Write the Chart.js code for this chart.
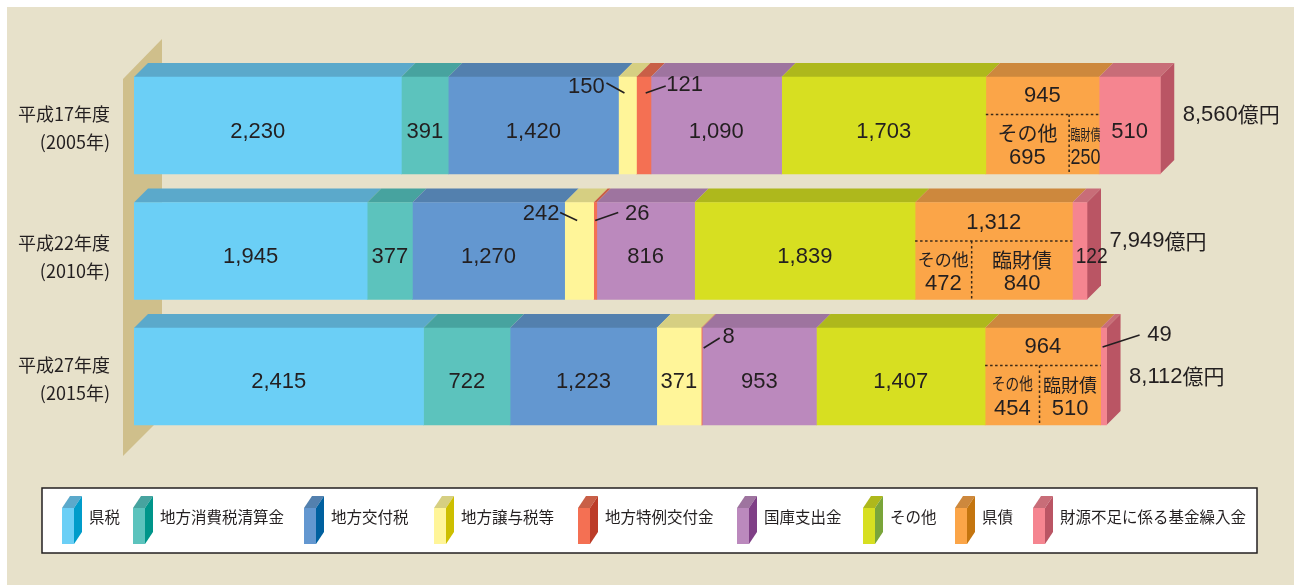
<!DOCTYPE html>
<html lang="ja">
<head>
<meta charset="utf-8">
<title>歳入の推移</title>
<style>
  html, body { margin: 0; padding: 0; background: #fff; }
  canvas { display: block; }
</style>
<script src="https://cdn.jsdelivr.net/npm/chart.js@4/dist/chart.umd.min.js"></script>
</head>
<body>
<div style="width:1294px;height:585px"><canvas id="revenueChart" width="1294" height="585"></canvas></div>
<script>
// 年度ラベル
const years = [['平成17年度', '(2005年)'], ['平成22年度', '(2010年)'], ['平成27年度', '(2015年)']];
const totals = ['8,560億円', '7,949億円', '8,112億円'];

// 系列名
const seriesNames = ['県税', '地方消費税清算金', '地方交付税', '地方譲与税等', '地方特例交付金', '国庫支出金', 'その他', '県債', '財源不足に係る基金繰入金'];

// 系列の値（億円）
const kenzei = [2230, 1945, 2415];
const seisankin = [391, 377, 722];
const koufuzei = [1420, 1270, 1223];
const jouyozei = [150, 242, 371];
const tokurei = [121, 26, 8];
const kokko = [1090, 816, 953];
const sonota = [1703, 1839, 1407];
const kensai = [945, 1312, 964];
const kikin = [510, 122, 49];

// 県債の内訳
const kensaiOther = [695, 472, 454];
const kensaiRinzai = [250, 840, 510];

const seriesValues = [kenzei, seisankin, koufuzei, jouyozei, tokurei, kokko, sonota, kensai, kikin];

// 色：正面・上面・側面
const frontColors = ['#6bcff6', '#5cc3bd', '#6397d0', '#fff599', '#f47053', '#bb89bd', '#d7df21', '#fba548', '#f58590'];
const topColors = ['#5ba9cb', '#47a39f', '#5380ae', '#d6cf82', '#c85f47', '#9e749f', '#aeb81c', '#cd883d', '#c86d78'];
const sideColors = ['#009cca', '#00958a', '#00609f', '#cdbf00', '#bc3c28', '#7f3f86', '#7aa53a', '#c4750f', '#ba5564'];

const DEPTH = 14;
const INK = '#231f20';
const NUM_FONT = '"Liberation Sans", Arial, sans-serif';
const JP_FONT = '"Noto Sans CJK JP", sans-serif';

// 行ごとの文字の縦位置の補正
const rowShift = [0, 1, 0];
const labelDy = [6, 6, 5];

// 引き出し線付きのラベル（区画の中心と上端からのずれ）
const callouts = [
    { s: 3, y: 0, tx: -41, ty: 10, x0: -21, y0: 6, x1: -3, y1: 16 },
    { s: 4, y: 0, tx: 41, ty: 8, x0: 22, y0: 9, x1: 2, y1: 16 },
    { s: 3, y: 1, tx: -38, ty: 11, x0: -19, y0: 10, x1: -2, y1: 18 },
    { s: 4, y: 1, tx: 42, ty: 11, x0: 23, y0: 10, x1: 0, y1: 18 },
    { s: 4, y: 2, tx: 27, ty: 9, x0: 18, y0: 10, x1: 2, y1: 20 },
    { s: 8, y: 2, tx: 56, ty: 7, x0: 36, y0: 7, x1: -1, y1: 19 }
];

// 棒の中に書かない組み合わせ
const skipLabel = (s, y) => s === 7 || callouts.some(c => c.s === s && c.y === y);

function fmt(v) {
    return v.toLocaleString('en-US');
}

function text(ctx, str, x, y, font, align, maxWidth) {
    ctx.font = font;
    ctx.textAlign = align || 'center';
    ctx.textBaseline = 'middle';
    ctx.fillStyle = INK;
    if (maxWidth) ctx.fillText(str, x, y, maxWidth);
    else ctx.fillText(str, x, y);
}

function poly(ctx, pts, color) {
    ctx.beginPath();
    ctx.moveTo(pts[0][0], pts[0][1]);
    pts.slice(1).forEach(p => ctx.lineTo(p[0], p[1]));
    ctx.closePath();
    ctx.fillStyle = color;
    ctx.fill();
}

function line(ctx, x0, y0, x1, y1) {
    ctx.beginPath();
    ctx.moveTo(x0, y0);
    ctx.lineTo(x1, y1);
    ctx.stroke();
}

// 背景・壁・立体の上面と側面
const backdropPlugin = {
    id: 'backdrop',
    beforeDraw(chart) {
        const ctx = chart.ctx;
        ctx.save();
        ctx.fillStyle = '#e7e1ca';
        ctx.fillRect(7, 7, 1287, 578);
        poly(ctx, [[123, 79], [162, 39], [162, 417], [123, 456]], '#cfbf8b');
        ctx.restore();
    },
    beforeDatasetsDraw(chart) {
        const ctx = chart.ctx;
        ctx.save();
        years.forEach((_, y) => {
            seriesValues.forEach((_, s) => {
                const bar = chart.getDatasetMeta(s).data[y];
                const top = bar.y - bar.height / 2;
                const bottom = bar.y + bar.height / 2;
                poly(ctx, [[bar.base, top], [bar.x, top], [bar.x + DEPTH, top - DEPTH], [bar.base + DEPTH, top - DEPTH]], topColors[s]);
                if (s === seriesValues.length - 1) {
                    poly(ctx, [[bar.x, top], [bar.x + DEPTH, top - DEPTH], [bar.x + DEPTH, bottom - DEPTH], [bar.x, bottom]], sideColors[s]);
                }
            });
        });
        ctx.restore();
    },
    afterDatasetsDraw(chart) {
        const ctx = chart.ctx;
        const xScale = chart.scales.x;
        const yScale = chart.scales.y;
        ctx.save();
        years.forEach((lines, y) => {
            // 年度ラベル
            const rowY = yScale.getPixelForTick(y);
            text(ctx, lines[0], 110, rowY - 11.5 + rowShift[y] * 4, '18px ' + JP_FONT, 'right');
            text(ctx, lines[1], 110, rowY + 16.5 + rowShift[y] * 4, '18px ' + JP_FONT, 'right');

            // 区画の数値
            seriesValues.forEach((vals, s) => {
                if (skipLabel(s, y)) return;
                const bar = chart.getDatasetMeta(s).data[y];
                const cx = (bar.base + bar.x) / 2;
                if (s === 8 && y === 1) {
                    text(ctx, fmt(vals[y]), cx + 12, bar.y + labelDy[y], '22px ' + NUM_FONT, 'center', 32);
                } else if (s === 0 && y === 0) {
                    text(ctx, fmt(vals[y]), cx - 10, bar.y + labelDy[y], '22px ' + NUM_FONT);
                } else {
                    text(ctx, fmt(vals[y]), cx, bar.y + labelDy[y], '22px ' + NUM_FONT);
                }
            });

            // 引き出し線
            callouts.filter(c => c.y === y).forEach(c => {
                const bar = chart.getDatasetMeta(c.s).data[y];
                const cx = (bar.base + bar.x) / 2;
                const top = bar.y - bar.height / 2;
                ctx.strokeStyle = INK;
                ctx.lineWidth = 1.6;
                line(ctx, cx + c.x0, top + c.y0, cx + c.x1, top + c.y1);
                text(ctx, fmt(seriesValues[c.s][y]), cx + c.tx, top + c.ty, '22px ' + NUM_FONT);
            });

            // 県債の内訳
            const debt = chart.getDatasetMeta(7).data[y];
            const top = debt.y - debt.height / 2 + rowShift[y];
            const bottom = debt.y + debt.height / 2;
            const split = xScale.getPixelForValue(xScale.getValueForPixel(debt.base) + kensaiOther[y]);
            const mid = top + 37.5;
            text(ctx, fmt(kensai[y]), (debt.base + debt.x) / 2, top + 19, '22px ' + NUM_FONT);
            ctx.strokeStyle = '#3a2a18';
            ctx.lineWidth = 1.5;
            ctx.setLineDash([2.5, 2.5]);
            line(ctx, debt.base, mid, debt.x, mid);
            line(ctx, split, mid, split, bottom);
            ctx.setLineDash([]);
            const leftX = (debt.base + split) / 2;
            const rightX = (split + debt.x) / 2 + (y === 0 ? 1.5 : 0);
            const otherFont = [20, 17, 17][y];
            const otherWidth = [60, 52, 41][y];
            const rinzaiFont = [15, 20, 18][y];
            const rinzaiWidth = [30, 68, 54][y];
            text(ctx, 'その他', leftX, top + 56, otherFont + 'px ' + JP_FONT, 'center', otherWidth);
            text(ctx, '臨財債', rightX, top + 57, rinzaiFont + 'px ' + JP_FONT, 'center', rinzaiWidth);
            text(ctx, fmt(kensaiOther[y]), leftX, top + 81 - rowShift[y], '22px ' + NUM_FONT);
            text(ctx, fmt(kensaiRinzai[y]), rightX, top + 81 - rowShift[y], '22px ' + NUM_FONT, 'center', rinzaiWidth);

            // 合計
            const last = chart.getDatasetMeta(8).data[y];
            const totalDy = [-11, -10, 0][y];
            const totalX = last.x + 22.5;
            const totalNum = totals[y].replace('億円', '');
            text(ctx, totalNum, totalX, last.y + totalDy, '22px ' + NUM_FONT, 'left');
            ctx.font = '22px ' + NUM_FONT;
            const numW = ctx.measureText(totalNum).width;
            text(ctx, '億円', totalX + numW, last.y + totalDy, '21px ' + JP_FONT, 'left', 42);
        });

        // 凡例
        ctx.fillStyle = '#ffffff';
        ctx.strokeStyle = '#231f20';
        ctx.lineWidth = 1.5;
        ctx.fillRect(42, 488, 1215, 65);
        ctx.strokeRect(42, 488, 1215, 65);
        const swatchX = [62, 133, 304, 434, 578, 737, 863, 955, 1033];
        seriesNames.forEach((name, s) => {
            const x = swatchX[s];
            poly(ctx, [[x, 508], [x + 12, 508], [x + 20, 496], [x + 8, 496]], topColors[s]);
            poly(ctx, [[x + 12, 508], [x + 20, 496], [x + 20, 532], [x + 12, 544]], sideColors[s]);
            poly(ctx, [[x, 508], [x + 12, 508], [x + 12, 544], [x, 544]], frontColors[s]);
            text(ctx, name, x + 27, 517, '16px ' + JP_FONT, 'left', name.length * 15.5);
        });
        ctx.restore();
    }
};

new Chart(document.getElementById('revenueChart'), {
    type: 'bar',
    data: {
        labels: years,
        datasets: seriesNames.map((name, s) => ({
            label: name,
            data: seriesValues[s],
            backgroundColor: frontColors[s],
            borderWidth: 0,
            barThickness: 97
        }))
    },
    options: {
        indexAxis: 'y',
        responsive: false,
        animation: false,
        layout: {
            padding: { top: 62.75, bottom: 145.75, right: 81 }
        },
        plugins: {
            legend: { display: false },
            tooltip: { enabled: false }
        },
        scales: {
            x: {
                stacked: true,
                display: false,
                min: 0,
                max: 9000
            },
            y: {
                stacked: true,
                afterFit(scale) {
                    scale.width = 134;
                },
                grid: { display: false },
                border: { display: false },
                ticks: { display: false }
            }
        }
    },
    plugins: [backdropPlugin]
});
</script>
</body>
</html>
